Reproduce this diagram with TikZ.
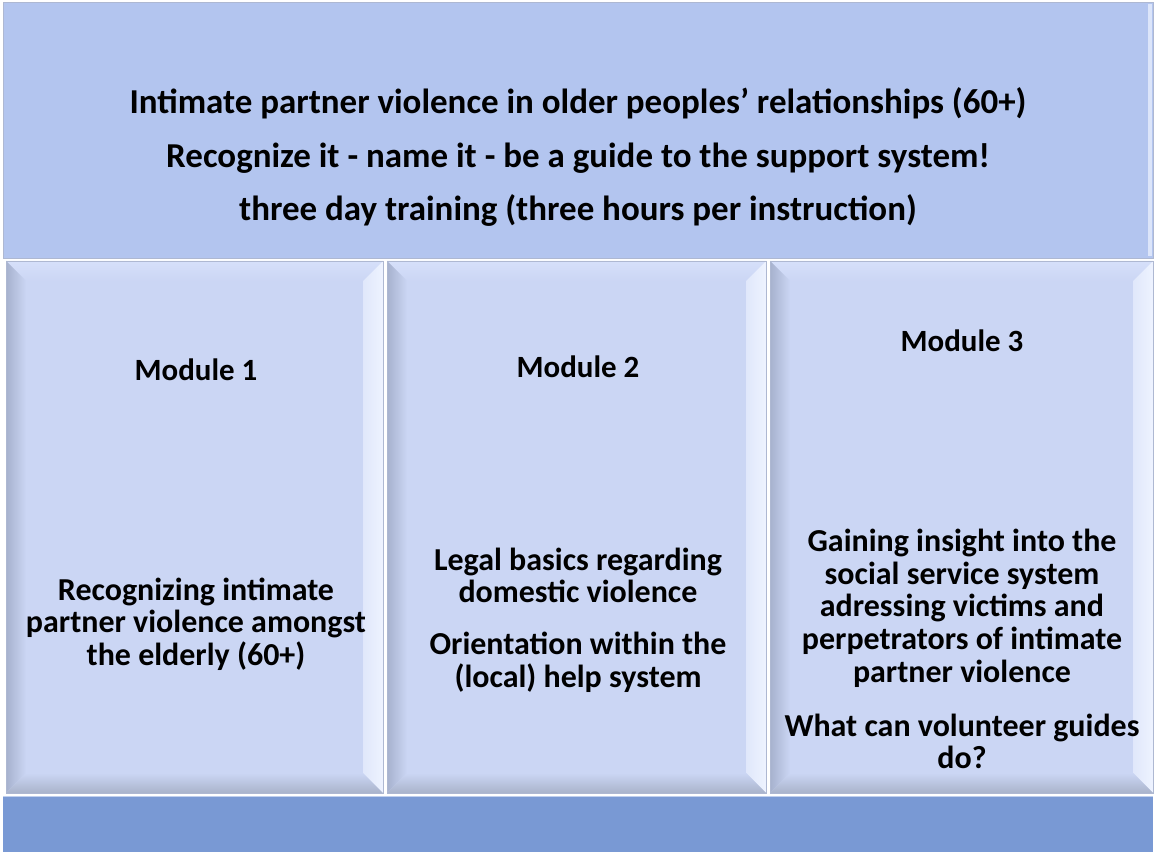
\documentclass[tikz,border=0pt]{standalone}
\usepackage{fontspec}
\setmainfont{Carlito}
\definecolor{headblue}{HTML}{B3C5EF}
\definecolor{paneface}{HTML}{CBD6F4}
\definecolor{footblue}{HTML}{7999D4}
\definecolor{bevtop}{HTML}{D6E0FA}
\definecolor{bevleft}{HTML}{A6B1CD}
\definecolor{bevright}{HTML}{EEF3FF}
\definecolor{bevbottom}{HTML}{A9B3CB}
\definecolor{rimgrey}{HTML}{AEB8D2}

\tikzset{
  titletext/.style={font=\bfseries\fontsize{19.9}{30.6}\selectfont, align=center},
  modhead/.style={font=\bfseries\fontsize{17.6}{18.5}\selectfont},
  modtext/.style={font=\bfseries\fontsize{18.2}{18.6}\selectfont, align=center},
}

% bevelled panel: left, top, right, bottom (in px units)
\newcommand\bevelpanel[4]{%
  \fill[paneface] (#1,#2) rectangle (#3,#4);
  \shade[top color=bevtop, bottom color=paneface] (#1,#2) -- (#3,#2) -- (#3-20,#2+20) -- (#1+20,#2+20) -- cycle;
  \shade[left color=bevleft, right color=paneface] (#1,#2) -- (#1+20,#2+20) -- (#1+20,#4-20) -- (#1,#4) -- cycle;
  \shade[left color=paneface!40!bevright, right color=bevright] (#3,#2) -- (#3,#4) -- (#3-20,#4-20) -- (#3-20,#2+20) -- cycle;
  \shade[top color=paneface, bottom color=bevbottom] (#1,#4) -- (#1+20,#4-20) -- (#3-20,#4-20) -- (#3,#4) -- cycle;
  \draw[rimgrey, line width=0.4pt] (#1,#2) rectangle (#3,#4);
}

\begin{document}
\begin{tikzpicture}[x=0.02cm, y=-0.02cm]
 \useasboundingbox[fill=white] (0,0) rectangle (1155,854);

 % heading block
 \fill[headblue] (3,2) rectangle (1153,258);
 \draw[rimgrey] (3,2) rectangle (1153,258);
 \fill[bevright!70!headblue] (1148,4) rectangle (1152,256);

 % three modules
 \bevelpanel{6}{261}{383}{793}
 \bevelpanel{387}{261}{766}{793}
 \bevelpanel{770}{261}{1153}{793}

 % footer bar
 \fill[footblue] (3,796) rectangle (1153,852);
 \draw[bevright!60!footblue] (3,796) -- (1153,796);

 \node[titletext] (title) at (578,157) {Intimate partner violence in older peoples’ relationships (60+)\\
   Recognize it - name it - be a guide to the support system!\\
   three day training (three hours per instruction)};

 \node[modhead] (head1) at (196,370) {Module 1};
 \node[modhead] (head2) at (578,367) {Module 2};
 \node[modhead] (head3) at (962,341) {Module 3};

 \node[modtext] (text1) at (196,624) {Recognizing intimate\\partner violence amongst\\the elderly (60+)};
 \node[modtext] (text2) at (578,620) {Legal basics regarding\\domestic violence\\[11pt]
   Orientation within the\\(local) help system};
 \node[modtext] (text3) at (962,649) {Gaining insight into the\\social service system\\adressing victims and\\
   perpetrators of intimate\\partner violence\\[12pt]What can volunteer guides\\do?};
\end{tikzpicture}
\end{document}
